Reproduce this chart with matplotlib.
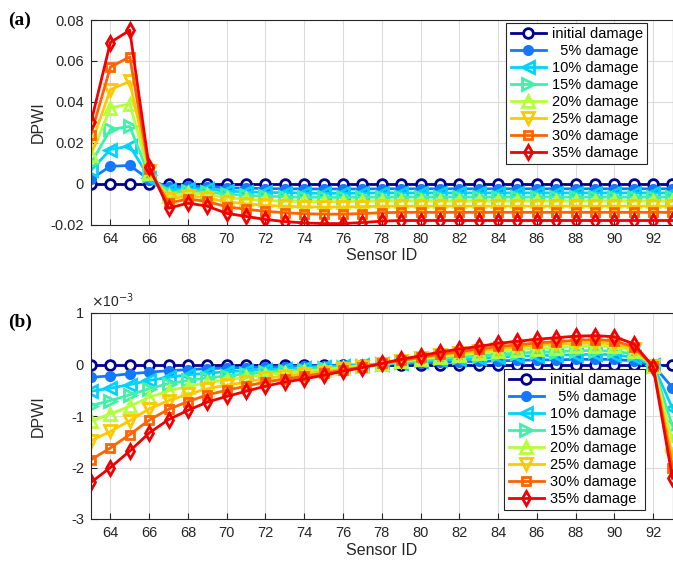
import matplotlib
matplotlib.use("Agg")
import matplotlib.pyplot as plt
import numpy as np

plt.rcParams['font.family'] = ['Liberation Sans', 'DejaVu Sans']

sensor_ids = list(range(63, 94))
labels = ['initial damage', '  5% damage', '10% damage', '15% damage',
          '20% damage', '25% damage', '30% damage', '35% damage']

# Panel (a) DPWI values
a_init = [0.0] * 31
a_05 = [0.0023, 0.0085, 0.0089, 0.0020, -0.0017, -0.0013, -0.0015, -0.0020, -0.0022, -0.0024,
        -0.0025, -0.0026, -0.0026, -0.0026, -0.0026, -0.0025, -0.0025, -0.0025, -0.0025, -0.0025,
        -0.0025, -0.0025, -0.0025, -0.0025, -0.0025, -0.0025, -0.0025, -0.0025, -0.0025, -0.0025, -0.0025]
a_10 = [0.0065, 0.0167, 0.0184, 0.0030, -0.0030, -0.0024, -0.0028, -0.0036, -0.0040, -0.0043,
        -0.0044, -0.0046, -0.0047, -0.0047, -0.0046, -0.0045, -0.0045, -0.0045, -0.0045, -0.0045,
        -0.0045, -0.0045, -0.0045, -0.0045, -0.0045, -0.0045, -0.0045, -0.0045, -0.0045, -0.0045, -0.0045]
a_15 = [0.0100, 0.0265, 0.0280, 0.0040, -0.0045, -0.0034, -0.0040, -0.0052, -0.0057, -0.0061,
        -0.0064, -0.0066, -0.0067, -0.0067, -0.0066, -0.0065, -0.0065, -0.0065, -0.0065, -0.0065,
        -0.0065, -0.0065, -0.0065, -0.0065, -0.0065, -0.0065, -0.0065, -0.0065, -0.0065, -0.0065, -0.0065]
a_20 = [0.0140, 0.0370, 0.0390, 0.0050, -0.0060, -0.0046, -0.0053, -0.0069, -0.0076, -0.0082,
        -0.0085, -0.0087, -0.0088, -0.0088, -0.0086, -0.0085, -0.0085, -0.0085, -0.0085, -0.0085,
        -0.0085, -0.0085, -0.0085, -0.0085, -0.0085, -0.0085, -0.0085, -0.0085, -0.0085, -0.0085, -0.0085]
a_25 = [0.0190, 0.0460, 0.0500, 0.0060, -0.0075, -0.0060, -0.0069, -0.0089, -0.0098, -0.0106,
        -0.0110, -0.0113, -0.0114, -0.0114, -0.0112, -0.0110, -0.0110, -0.0110, -0.0110, -0.0110,
        -0.0110, -0.0110, -0.0110, -0.0110, -0.0110, -0.0110, -0.0110, -0.0110, -0.0110, -0.0110, -0.0110]
a_30 = [0.0240, 0.0570, 0.0620, 0.0070, -0.0095, -0.0075, -0.0087, -0.0113, -0.0125, -0.0135,
        -0.0142, -0.0147, -0.0149, -0.0149, -0.0146, -0.0142, -0.0140, -0.0140, -0.0140, -0.0140,
        -0.0140, -0.0140, -0.0140, -0.0140, -0.0140, -0.0140, -0.0140, -0.0140, -0.0140, -0.0140, -0.0140]
a_35 = [0.0300, 0.0690, 0.0750, 0.0080, -0.0120, -0.0095, -0.0110, -0.0145, -0.0160, -0.0175,
        -0.0185, -0.0192, -0.0195, -0.0195, -0.0190, -0.0183, -0.0180, -0.0180, -0.0180, -0.0180,
        -0.0180, -0.0180, -0.0180, -0.0180, -0.0180, -0.0180, -0.0180, -0.0180, -0.0180, -0.0180, -0.0180]

# Panel (b) DPWI values (x 1e-3)
b_init = [0.0] * 31
b_05 = [-0.25, -0.22, -0.18, -0.15, -0.12, -0.10, -0.08, -0.07, -0.06, -0.05, -0.04, -0.03, -0.02, -0.01, -0.01,
        0.00, 0.02, 0.03, 0.04, 0.05, 0.06, 0.07, 0.08, 0.09, 0.09, 0.10, 0.10, 0.10, 0.07, -0.01, -0.45]
b_10 = [-0.52, -0.46, -0.39, -0.31, -0.25, -0.20, -0.17, -0.14, -0.12, -0.10, -0.08, -0.06, -0.05, -0.03, -0.01,
        0.01, 0.03, 0.06, 0.08, 0.10, 0.12, 0.14, 0.16, 0.17, 0.18, 0.19, 0.20, 0.19, 0.14, -0.01, -0.85]
b_15 = [-0.80, -0.70, -0.59, -0.47, -0.37, -0.31, -0.26, -0.22, -0.18, -0.15, -0.12, -0.10, -0.07, -0.05, -0.02,
        0.01, 0.05, 0.08, 0.12, 0.15, 0.17, 0.20, 0.22, 0.24, 0.25, 0.27, 0.27, 0.26, 0.20, -0.02, -1.20]
b_20 = [-1.10, -0.96, -0.81, -0.64, -0.51, -0.43, -0.35, -0.30, -0.25, -0.20, -0.16, -0.13, -0.10, -0.06, -0.03,
        0.01, 0.06, 0.11, 0.15, 0.19, 0.22, 0.26, 0.29, 0.31, 0.33, 0.35, 0.36, 0.35, 0.26, -0.02, -1.50]
b_25 = [-1.48, -1.30, -1.09, -0.86, -0.70, -0.58, -0.47, -0.40, -0.34, -0.27, -0.22, -0.18, -0.14, -0.09, -0.04,
        0.01, 0.07, 0.13, 0.18, 0.22, 0.26, 0.31, 0.34, 0.37, 0.39, 0.41, 0.42, 0.40, 0.30, -0.03, -1.80]
b_30 = [-1.85, -1.62, -1.36, -1.08, -0.87, -0.72, -0.59, -0.50, -0.42, -0.34, -0.28, -0.23, -0.17, -0.11, -0.05,
        0.02, 0.08, 0.14, 0.20, 0.25, 0.30, 0.35, 0.38, 0.42, 0.44, 0.47, 0.48, 0.46, 0.34, -0.03, -2.00]
b_35 = [-2.29, -2.00, -1.68, -1.33, -1.07, -0.89, -0.73, -0.62, -0.52, -0.42, -0.34, -0.28, -0.21, -0.13, -0.06,
        0.02, 0.10, 0.17, 0.24, 0.30, 0.35, 0.41, 0.45, 0.49, 0.52, 0.55, 0.56, 0.54, 0.40, -0.04, -2.21]

series_a = [a_init, a_05, a_10, a_15, a_20, a_25, a_30, a_35]
series_b = [b_init, b_05, b_10, b_15, b_20, b_25, b_30, b_35]

colors = ['#00008F', '#1478FF', '#00D2FF', '#40F0A8', '#B4FF3C', '#FFC800', '#FF6400', '#F00000']
markers = ['o', 'o', '<', '>', '^', 'v', 's', 'd']
mfcs = ['white', None, 'none', 'none', 'none', 'none', 'none', 'none']
msizes = [7, 6, 8, 8, 8, 8, 6, 7]

W, H = 673, 563
fig = plt.figure(figsize=(W / 100, H / 100), dpi=100)

def px_axes(left, top, right, bottom):
    return fig.add_axes([left / W, 1 - bottom / H, (right - left) / W, (bottom - top) / H])

ax_a = px_axes(91, 20, 672.5, 224.6)
ax_b = px_axes(91, 313, 672.5, 519)

def draw(ax, series):
    for s, c, m, mfc, ms, lab in zip(series, colors, markers, mfcs, msizes, labels):
        kw = dict(color=c, marker=m, markersize=ms, linewidth=2, markeredgewidth=2.0, label=lab)
        kw['markerfacecolor'] = c if mfc is None else mfc
        ax.plot(sensor_ids, s, **kw)
    ax.set_xlim(63, 93)
    ax.set_xticks(range(64, 93, 2))
    ax.grid(True, color='#DCDCDC', linewidth=0.8)
    ax.set_axisbelow(True)
    for sp in ax.spines.values():
        sp.set_color('#262626')
        sp.set_linewidth(0.8)
    ax.tick_params(direction='in', length=4, width=0.8, colors='#262626', labelsize=10.5, pad=5)
    ax.set_xlabel('Sensor ID', fontsize=11.5, color='#262626', labelpad=2)
    ax.set_ylabel('DPWI', fontsize=11.5, color='#262626')

draw(ax_a, series_a)
ax_a.set_ylim(-0.02, 0.08)
ax_a.set_yticks([-0.02, 0, 0.02, 0.04, 0.06, 0.08])
ax_a.set_yticklabels(['-0.02', '0', '0.02', '0.04', '0.06', '0.08'])
ax_a.yaxis.set_label_coords(-0.078, 0.5)

draw(ax_b, series_b)
ax_b.set_ylim(-3, 1)
ax_b.set_yticks([-3, -2, -1, 0, 1])
ax_b.set_yticklabels(['-3', '-2', '-1', '0', '1'])
ax_b.yaxis.set_label_coords(-0.078, 0.5)
ax_b.text(0.0, 1.015, r'$\times$10$^{-3}$', transform=ax_b.transAxes, fontsize=10,
          color='#262626', ha='left', va='bottom')

leg_kw = dict(loc='upper right', fontsize=10.5, frameon=True, fancybox=False, framealpha=1,
              edgecolor='#262626', handlelength=2.4, labelspacing=0.2, borderpad=0.3,
              handletextpad=0.4, borderaxespad=0)
la = ax_a.legend(bbox_to_anchor=((647 - 91) / 581.5, (224.6 - 23) / 204.6), **leg_kw)
lb = ax_b.legend(bbox_to_anchor=((645 - 91) / 581.5, (519 - 369) / 206), **leg_kw)
for lg in (la, lb):
    lg.get_frame().set_linewidth(0.8)

fig.text(8 / W, 1 - 20 / H, '(a)', fontsize=14, fontweight='bold',
         family=['Liberation Serif'], ha='left', va='center')
fig.text(8 / W, 1 - 322 / H, '(b)', fontsize=14, fontweight='bold',
         family=['Liberation Serif'], ha='left', va='center')

fig.savefig('out.png', dpi=100)
